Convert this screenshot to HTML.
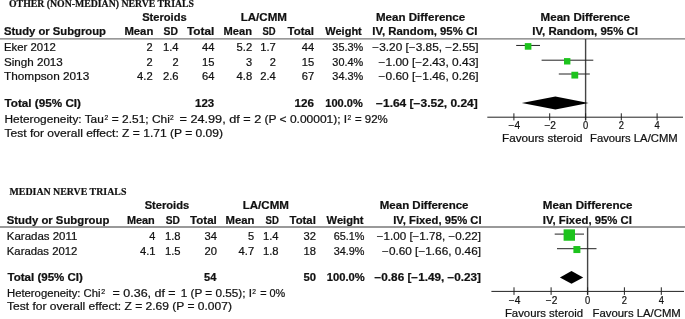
<!DOCTYPE html>
<html><head><meta charset="utf-8"><title>Forest plot</title>
<style>
html,body{margin:0;padding:0;background:#fff;}
svg{display:block;will-change:transform;font-family:"Liberation Sans",sans-serif;fill:#111;}
text{stroke:#111;stroke-width:0.2px;}
</style></head><body>
<svg width="685" height="319" viewBox="0 0 685 319">
<rect width="685" height="319" fill="#fff"/>
<line x1="0" y1="38.85" x2="685" y2="38.85" stroke="#777" stroke-width="1.3"/>
<line x1="585.6" y1="39" x2="585.6" y2="120.4" stroke="#444" stroke-width="1.4"/>
<line x1="487.3" y1="117.2" x2="683" y2="117.2" stroke="#222" stroke-width="1"/>
<line x1="513.9" y1="113.3" x2="513.9" y2="120.4" stroke="#222" stroke-width="1"/>
<line x1="549.7" y1="113.3" x2="549.7" y2="120.4" stroke="#222" stroke-width="1"/>
<line x1="585.6" y1="113.3" x2="585.6" y2="120.4" stroke="#222" stroke-width="1"/>
<line x1="621.3" y1="113.3" x2="621.3" y2="120.4" stroke="#222" stroke-width="1"/>
<line x1="657.1" y1="113.3" x2="657.1" y2="120.4" stroke="#222" stroke-width="1"/>
<line x1="516.2" y1="45.45" x2="540" y2="45.45" stroke="#222" stroke-width="1"/>
<rect x="524.80" y="43.10" width="6.6" height="6.6" fill="#1dc31d"/>
<line x1="541.6" y1="60.2" x2="593.3" y2="60.2" stroke="#222" stroke-width="1"/>
<rect x="564.00" y="58.10" width="6.4" height="6.4" fill="#1dc31d"/>
<line x1="558.8" y1="74.0" x2="589.8" y2="74.0" stroke="#222" stroke-width="1"/>
<rect x="571.40" y="71.75" width="6.8" height="6.8" fill="#1dc31d"/>
<polygon points="521.8,102.9 555.4,96.4 588.6,102.9 555.4,109.4" fill="#000"/>
<line x1="0" y1="227.0" x2="685" y2="227.0" stroke="#777" stroke-width="1.3"/>
<line x1="587.6" y1="227.5" x2="587.6" y2="294.9" stroke="#444" stroke-width="1.4"/>
<line x1="491.4" y1="291.4" x2="684" y2="291.4" stroke="#222" stroke-width="1"/>
<line x1="514.0" y1="287.3" x2="514.0" y2="294.9" stroke="#222" stroke-width="1"/>
<line x1="551.1" y1="287.3" x2="551.1" y2="294.9" stroke="#222" stroke-width="1"/>
<line x1="587.6" y1="287.3" x2="587.6" y2="294.9" stroke="#222" stroke-width="1"/>
<line x1="624.4" y1="287.3" x2="624.4" y2="294.9" stroke="#222" stroke-width="1"/>
<line x1="661.3" y1="287.3" x2="661.3" y2="294.9" stroke="#222" stroke-width="1"/>
<line x1="554.7" y1="234.1" x2="584" y2="234.1" stroke="#222" stroke-width="1"/>
<rect x="563.60" y="229.35" width="11.4" height="11.4" fill="#1dc31d"/>
<line x1="557" y1="248.7" x2="596.5" y2="248.7" stroke="#222" stroke-width="1"/>
<rect x="573.40" y="246.05" width="7" height="7" fill="#1dc31d"/>
<polygon points="559.9,277.4 571.5,271.09999999999997 583.2,277.4 571.5,283.7" fill="#000"/>
<text x="9.00" y="6.60" textLength="185.00" lengthAdjust="spacingAndGlyphs" style="font-size:9.8px;font-weight:bold;font-family:'Liberation Serif',serif;">OTHER (NON-MEDIAN) NERVE TRIALS</text>
<text x="142.20" y="20.50" textLength="44.50" lengthAdjust="spacingAndGlyphs" style="font-size:10.0px;font-weight:bold;">Steroids</text>
<text x="240.70" y="20.50" textLength="46.30" lengthAdjust="spacingAndGlyphs" style="font-size:10.0px;font-weight:bold;">LA/CMM</text>
<text x="376.00" y="20.50" textLength="89.20" lengthAdjust="spacingAndGlyphs" style="font-size:10.0px;font-weight:bold;">Mean Difference</text>
<text x="540.60" y="20.50" textLength="89.40" lengthAdjust="spacingAndGlyphs" style="font-size:10.0px;font-weight:bold;">Mean Difference</text>
<text x="4.00" y="35.40" textLength="102.00" lengthAdjust="spacingAndGlyphs" style="font-size:10.0px;font-weight:bold;">Study or Subgroup</text>
<text x="124.40" y="35.40" textLength="28.90" lengthAdjust="spacingAndGlyphs" style="font-size:10.0px;font-weight:bold;">Mean</text>
<text x="163.60" y="35.40" textLength="14.40" lengthAdjust="spacingAndGlyphs" style="font-size:10.0px;font-weight:bold;">SD</text>
<text x="187.00" y="35.40" textLength="27.30" lengthAdjust="spacingAndGlyphs" style="font-size:10.0px;font-weight:bold;">Total</text>
<text x="223.60" y="35.40" textLength="28.40" lengthAdjust="spacingAndGlyphs" style="font-size:10.0px;font-weight:bold;">Mean</text>
<text x="262.50" y="35.40" textLength="13.10" lengthAdjust="spacingAndGlyphs" style="font-size:10.0px;font-weight:bold;">SD</text>
<text x="287.60" y="35.40" textLength="26.40" lengthAdjust="spacingAndGlyphs" style="font-size:10.0px;font-weight:bold;">Total</text>
<text x="325.30" y="35.40" textLength="36.50" lengthAdjust="spacingAndGlyphs" style="font-size:10.0px;font-weight:bold;">Weight</text>
<text x="372.30" y="35.40" textLength="105.00" lengthAdjust="spacingAndGlyphs" style="font-size:10.0px;font-weight:bold;">IV, Random, 95% CI</text>
<text x="532.30" y="35.40" textLength="105.60" lengthAdjust="spacingAndGlyphs" style="font-size:10.0px;font-weight:bold;">IV, Random, 95% CI</text>
<text x="4.00" y="51.30" textLength="51.80" lengthAdjust="spacingAndGlyphs" style="font-size:10.0px;">Eker 2012</text>
<text x="146.58" y="51.30" textLength="6.12" lengthAdjust="spacingAndGlyphs" style="font-size:10.0px;">2</text>
<text x="163.00" y="51.30" textLength="15.60" lengthAdjust="spacingAndGlyphs" style="font-size:10.0px;">1.4</text>
<text x="202.06" y="51.30" textLength="12.44" lengthAdjust="spacingAndGlyphs" style="font-size:10.0px;">44</text>
<text x="236.60" y="51.30" textLength="15.60" lengthAdjust="spacingAndGlyphs" style="font-size:10.0px;">5.2</text>
<text x="260.20" y="51.30" textLength="15.60" lengthAdjust="spacingAndGlyphs" style="font-size:10.0px;">1.7</text>
<text x="301.76" y="51.30" textLength="12.44" lengthAdjust="spacingAndGlyphs" style="font-size:10.0px;">44</text>
<text x="332.38" y="51.30" textLength="30.82" lengthAdjust="spacingAndGlyphs" style="font-size:10.0px;">35.3%</text>
<text x="372.30" y="51.30" textLength="106.30" lengthAdjust="spacingAndGlyphs" style="font-size:10.0px;">−3.20 [−3.85, −2.55]</text>
<text x="4.00" y="65.80" textLength="58.80" lengthAdjust="spacingAndGlyphs" style="font-size:10.0px;">Singh 2013</text>
<text x="146.58" y="65.80" textLength="6.12" lengthAdjust="spacingAndGlyphs" style="font-size:10.0px;">2</text>
<text x="172.48" y="65.80" textLength="6.12" lengthAdjust="spacingAndGlyphs" style="font-size:10.0px;">2</text>
<text x="202.06" y="65.80" textLength="12.44" lengthAdjust="spacingAndGlyphs" style="font-size:10.0px;">15</text>
<text x="246.08" y="65.80" textLength="6.12" lengthAdjust="spacingAndGlyphs" style="font-size:10.0px;">3</text>
<text x="269.68" y="65.80" textLength="6.12" lengthAdjust="spacingAndGlyphs" style="font-size:10.0px;">2</text>
<text x="301.76" y="65.80" textLength="12.44" lengthAdjust="spacingAndGlyphs" style="font-size:10.0px;">15</text>
<text x="332.38" y="65.80" textLength="30.82" lengthAdjust="spacingAndGlyphs" style="font-size:10.0px;">30.4%</text>
<text x="378.60" y="65.80" textLength="100.00" lengthAdjust="spacingAndGlyphs" style="font-size:10.0px;">−1.00 [−2.43, 0.43]</text>
<text x="4.00" y="80.20" textLength="85.20" lengthAdjust="spacingAndGlyphs" style="font-size:10.0px;">Thompson 2013</text>
<text x="137.10" y="80.20" textLength="15.60" lengthAdjust="spacingAndGlyphs" style="font-size:10.0px;">4.2</text>
<text x="163.00" y="80.20" textLength="15.60" lengthAdjust="spacingAndGlyphs" style="font-size:10.0px;">2.6</text>
<text x="202.06" y="80.20" textLength="12.44" lengthAdjust="spacingAndGlyphs" style="font-size:10.0px;">64</text>
<text x="236.60" y="80.20" textLength="15.60" lengthAdjust="spacingAndGlyphs" style="font-size:10.0px;">4.8</text>
<text x="260.20" y="80.20" textLength="15.60" lengthAdjust="spacingAndGlyphs" style="font-size:10.0px;">2.4</text>
<text x="301.76" y="80.20" textLength="12.44" lengthAdjust="spacingAndGlyphs" style="font-size:10.0px;">67</text>
<text x="332.38" y="80.20" textLength="30.82" lengthAdjust="spacingAndGlyphs" style="font-size:10.0px;">34.3%</text>
<text x="378.60" y="80.20" textLength="100.00" lengthAdjust="spacingAndGlyphs" style="font-size:10.0px;">−0.60 [−1.46, 0.26]</text>
<text x="4.50" y="106.90" textLength="76.50" lengthAdjust="spacingAndGlyphs" style="font-size:10.0px;font-weight:bold;">Total (95% CI)</text>
<text x="195.10" y="106.90" textLength="19.10" lengthAdjust="spacingAndGlyphs" style="font-size:10.0px;font-weight:bold;">123</text>
<text x="294.60" y="106.90" textLength="19.40" lengthAdjust="spacingAndGlyphs" style="font-size:10.0px;font-weight:bold;">126</text>
<text x="325.30" y="106.90" textLength="37.40" lengthAdjust="spacingAndGlyphs" style="font-size:10.0px;font-weight:bold;">100.0%</text>
<text x="376.00" y="106.90" textLength="101.70" lengthAdjust="spacingAndGlyphs" style="font-size:10.0px;font-weight:bold;">−1.64 [−3.52, 0.24]</text>
<text x="4.50" y="122.90" textLength="99.30" lengthAdjust="spacingAndGlyphs" style="font-size:10.0px;">Heterogeneity: Tau</text>
<text x="104.40" y="119.70" textLength="3.70" lengthAdjust="spacingAndGlyphs" style="font-size:7.2px;">2</text>
<text x="111.80" y="122.90" textLength="58.00" lengthAdjust="spacingAndGlyphs" style="font-size:10.0px;">= 2.51; Chi</text>
<text x="169.90" y="119.70" textLength="3.70" lengthAdjust="spacingAndGlyphs" style="font-size:7.2px;">2</text>
<text x="179.50" y="122.90" textLength="81.80" lengthAdjust="spacingAndGlyphs" style="font-size:10.0px;">= 24.99, df = 2</text>
<text x="264.50" y="122.90" textLength="82.70" lengthAdjust="spacingAndGlyphs" style="font-size:10.0px;">(P &lt; 0.00001); I</text>
<text x="347.60" y="119.70" textLength="3.70" lengthAdjust="spacingAndGlyphs" style="font-size:7.2px;">2</text>
<text x="355.00" y="122.90" textLength="32.80" lengthAdjust="spacingAndGlyphs" style="font-size:10.0px;">= 92%</text>
<text x="4.50" y="136.50" textLength="218.50" lengthAdjust="spacingAndGlyphs" style="font-size:10.0px;">Test for overall effect: Z = 1.71 (P = 0.09)</text>
<text x="508.60" y="129.00" textLength="11.60" lengthAdjust="spacingAndGlyphs" style="font-size:10.0px;">−4</text>
<text x="544.40" y="129.00" textLength="11.60" lengthAdjust="spacingAndGlyphs" style="font-size:10.0px;">−2</text>
<text x="583.00" y="129.00" textLength="5.20" lengthAdjust="spacingAndGlyphs" style="font-size:10.0px;">0</text>
<text x="618.70" y="129.00" textLength="5.20" lengthAdjust="spacingAndGlyphs" style="font-size:10.0px;">2</text>
<text x="654.50" y="129.00" textLength="5.20" lengthAdjust="spacingAndGlyphs" style="font-size:10.0px;">4</text>
<text x="502.00" y="141.80" textLength="80.50" lengthAdjust="spacingAndGlyphs" style="font-size:10.0px;">Favours steroid</text>
<text x="590.00" y="141.70" textLength="87.70" lengthAdjust="spacingAndGlyphs" style="font-size:10.0px;">Favours LA/CMM</text>
<text x="9.50" y="194.60" textLength="116.90" lengthAdjust="spacingAndGlyphs" style="font-size:9.8px;font-weight:bold;font-family:'Liberation Serif',serif;">MEDIAN NERVE TRIALS</text>
<text x="144.70" y="209.00" textLength="44.50" lengthAdjust="spacingAndGlyphs" style="font-size:10.0px;font-weight:bold;">Steroids</text>
<text x="242.70" y="209.00" textLength="46.20" lengthAdjust="spacingAndGlyphs" style="font-size:10.0px;font-weight:bold;">LA/CMM</text>
<text x="379.80" y="209.00" textLength="88.70" lengthAdjust="spacingAndGlyphs" style="font-size:10.0px;font-weight:bold;">Mean Difference</text>
<text x="542.80" y="209.00" textLength="89.60" lengthAdjust="spacingAndGlyphs" style="font-size:10.0px;font-weight:bold;">Mean Difference</text>
<text x="6.80" y="224.00" textLength="102.50" lengthAdjust="spacingAndGlyphs" style="font-size:10.0px;font-weight:bold;">Study or Subgroup</text>
<text x="126.90" y="224.00" textLength="27.90" lengthAdjust="spacingAndGlyphs" style="font-size:10.0px;font-weight:bold;">Mean</text>
<text x="165.80" y="224.00" textLength="14.20" lengthAdjust="spacingAndGlyphs" style="font-size:10.0px;font-weight:bold;">SD</text>
<text x="190.00" y="224.00" textLength="26.80" lengthAdjust="spacingAndGlyphs" style="font-size:10.0px;font-weight:bold;">Total</text>
<text x="225.60" y="224.00" textLength="28.90" lengthAdjust="spacingAndGlyphs" style="font-size:10.0px;font-weight:bold;">Mean</text>
<text x="265.50" y="224.00" textLength="13.30" lengthAdjust="spacingAndGlyphs" style="font-size:10.0px;font-weight:bold;">SD</text>
<text x="289.60" y="224.00" textLength="26.20" lengthAdjust="spacingAndGlyphs" style="font-size:10.0px;font-weight:bold;">Total</text>
<text x="326.60" y="224.00" textLength="36.90" lengthAdjust="spacingAndGlyphs" style="font-size:10.0px;font-weight:bold;">Weight</text>
<text x="393.20" y="224.00" textLength="88.40" lengthAdjust="spacingAndGlyphs" style="font-size:10.0px;font-weight:bold;">IV, Fixed, 95% CI</text>
<text x="542.80" y="224.00" textLength="89.10" lengthAdjust="spacingAndGlyphs" style="font-size:10.0px;font-weight:bold;">IV, Fixed, 95% CI</text>
<text x="6.80" y="239.80" textLength="70.60" lengthAdjust="spacingAndGlyphs" style="font-size:10.0px;">Karadas 2011</text>
<text x="149.38" y="239.80" textLength="6.12" lengthAdjust="spacingAndGlyphs" style="font-size:10.0px;">4</text>
<text x="165.00" y="239.80" textLength="15.60" lengthAdjust="spacingAndGlyphs" style="font-size:10.0px;">1.8</text>
<text x="204.56" y="239.80" textLength="12.44" lengthAdjust="spacingAndGlyphs" style="font-size:10.0px;">34</text>
<text x="248.08" y="239.80" textLength="6.12" lengthAdjust="spacingAndGlyphs" style="font-size:10.0px;">5</text>
<text x="262.90" y="239.80" textLength="15.60" lengthAdjust="spacingAndGlyphs" style="font-size:10.0px;">1.4</text>
<text x="303.56" y="239.80" textLength="12.44" lengthAdjust="spacingAndGlyphs" style="font-size:10.0px;">32</text>
<text x="333.68" y="239.80" textLength="30.82" lengthAdjust="spacingAndGlyphs" style="font-size:10.0px;">65.1%</text>
<text x="376.80" y="239.80" textLength="104.20" lengthAdjust="spacingAndGlyphs" style="font-size:10.0px;">−1.00 [−1.78, −0.22]</text>
<text x="6.80" y="254.50" textLength="70.60" lengthAdjust="spacingAndGlyphs" style="font-size:10.0px;">Karadas 2012</text>
<text x="139.90" y="254.50" textLength="15.60" lengthAdjust="spacingAndGlyphs" style="font-size:10.0px;">4.1</text>
<text x="165.00" y="254.50" textLength="15.60" lengthAdjust="spacingAndGlyphs" style="font-size:10.0px;">1.5</text>
<text x="204.56" y="254.50" textLength="12.44" lengthAdjust="spacingAndGlyphs" style="font-size:10.0px;">20</text>
<text x="238.60" y="254.50" textLength="15.60" lengthAdjust="spacingAndGlyphs" style="font-size:10.0px;">4.7</text>
<text x="262.90" y="254.50" textLength="15.60" lengthAdjust="spacingAndGlyphs" style="font-size:10.0px;">1.8</text>
<text x="303.56" y="254.50" textLength="12.44" lengthAdjust="spacingAndGlyphs" style="font-size:10.0px;">18</text>
<text x="333.68" y="254.50" textLength="30.82" lengthAdjust="spacingAndGlyphs" style="font-size:10.0px;">34.9%</text>
<text x="382.00" y="254.50" textLength="99.00" lengthAdjust="spacingAndGlyphs" style="font-size:10.0px;">−0.60 [−1.66, 0.46]</text>
<text x="7.50" y="280.70" textLength="75.40" lengthAdjust="spacingAndGlyphs" style="font-size:10.0px;font-weight:bold;">Total (95% CI)</text>
<text x="204.10" y="280.70" textLength="12.30" lengthAdjust="spacingAndGlyphs" style="font-size:10.0px;font-weight:bold;">54</text>
<text x="303.40" y="280.70" textLength="12.50" lengthAdjust="spacingAndGlyphs" style="font-size:10.0px;font-weight:bold;">50</text>
<text x="326.70" y="280.70" textLength="38.00" lengthAdjust="spacingAndGlyphs" style="font-size:10.0px;font-weight:bold;">100.0%</text>
<text x="374.50" y="280.70" textLength="106.50" lengthAdjust="spacingAndGlyphs" style="font-size:10.0px;font-weight:bold;">−0.86 [−1.49, −0.23]</text>
<text x="7.00" y="296.70" textLength="93.50" lengthAdjust="spacingAndGlyphs" style="font-size:10.0px;">Heterogeneity: Chi</text>
<text x="101.20" y="293.50" textLength="3.90" lengthAdjust="spacingAndGlyphs" style="font-size:7.2px;">2</text>
<text x="112.60" y="296.70" textLength="63.00" lengthAdjust="spacingAndGlyphs" style="font-size:10.0px;">= 0.36, df =</text>
<text x="180.80" y="296.70" textLength="71.20" lengthAdjust="spacingAndGlyphs" style="font-size:10.0px;">1 (P = 0.55); I</text>
<text x="252.20" y="293.50" textLength="3.70" lengthAdjust="spacingAndGlyphs" style="font-size:7.2px;">2</text>
<text x="260.20" y="296.70" textLength="25.10" lengthAdjust="spacingAndGlyphs" style="font-size:10.0px;">= 0%</text>
<text x="7.00" y="310.30" textLength="224.90" lengthAdjust="spacingAndGlyphs" style="font-size:10.0px;">Test for overall effect: Z = 2.69 (P = 0.007)</text>
<text x="508.70" y="303.80" textLength="11.60" lengthAdjust="spacingAndGlyphs" style="font-size:10.0px;">−4</text>
<text x="545.80" y="303.80" textLength="11.60" lengthAdjust="spacingAndGlyphs" style="font-size:10.0px;">−2</text>
<text x="585.00" y="303.80" textLength="5.20" lengthAdjust="spacingAndGlyphs" style="font-size:10.0px;">0</text>
<text x="621.80" y="303.80" textLength="5.20" lengthAdjust="spacingAndGlyphs" style="font-size:10.0px;">2</text>
<text x="658.70" y="303.80" textLength="5.20" lengthAdjust="spacingAndGlyphs" style="font-size:10.0px;">4</text>
<text x="504.90" y="316.70" textLength="78.30" lengthAdjust="spacingAndGlyphs" style="font-size:10.0px;">Favours steroid</text>
<text x="592.60" y="316.70" textLength="88.20" lengthAdjust="spacingAndGlyphs" style="font-size:10.0px;">Favours LA/CMM</text>
</svg></body></html>
